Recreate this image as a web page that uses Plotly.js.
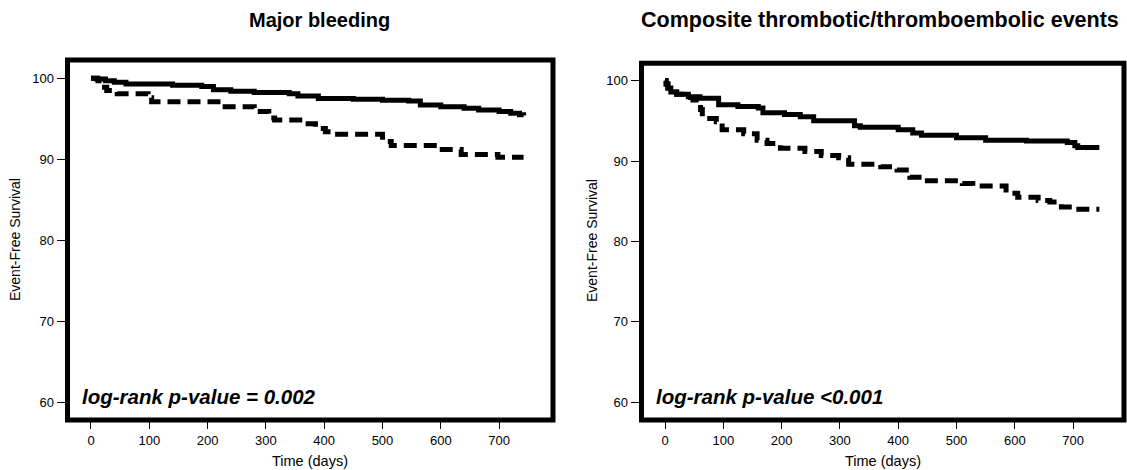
<!DOCTYPE html>
<html>
<head>
<meta charset="utf-8">
<script src="https://cdn.plot.ly/plotly-3.0.1.min.js"></script>
<style>html,body{margin:0;padding:0;background:#fff;}#chart{width:1127px;height:470px;}</style>
</head>
<body>
<div id="chart"></div>
<script>
// Major bleeding – solid group
const bleedSolidDays = [0, 10, 25, 40, 60, 140, 190, 210, 240, 280, 340, 355, 390, 450, 500, 545, 565, 600, 640, 665, 700, 720, 735, 742];
const bleedSolidVals = [100, 99.9, 99.7, 99.5, 99.3, 99.15, 99.0, 98.6, 98.4, 98.25, 98.1, 97.8, 97.5, 97.4, 97.3, 97.2, 96.7, 96.5, 96.3, 96.1, 95.9, 95.7, 95.5, 95.4];
// Major bleeding – dashed group
const bleedDashDays = [0, 12, 18, 27, 45, 98, 104, 225, 280, 305, 315, 368, 385, 402, 418, 500, 515, 595, 635, 698, 742];
const bleedDashVals = [100, 99.7, 98.9, 98.5, 98.1, 97.6, 97.1, 96.5, 95.9, 95.1, 94.85, 94.4, 93.8, 93.4, 93.1, 92.2, 91.7, 91.2, 90.6, 90.25, 90.25];
// Composite thrombotic – solid group
const thrSolidDays = [0, 2, 5, 10, 20, 40, 60, 92, 125, 160, 168, 205, 232, 255, 325, 335, 400, 425, 440, 500, 550, 620, 690, 703, 708, 745];
const thrSolidVals = [100, 99.6, 99.1, 98.6, 98.3, 98.0, 97.8, 97.0, 96.8, 96.6, 96.0, 95.8, 95.5, 95.0, 94.4, 94.2, 93.9, 93.5, 93.2, 92.9, 92.6, 92.5, 92.3, 91.9, 91.7, 91.7];
// Composite thrombotic – dashed group
const thrDashDays = [0, 2, 5, 10, 20, 35, 48, 58, 61, 64, 88, 98, 135, 158, 175, 198, 240, 268, 298, 315, 370, 398, 420, 445, 510, 528, 585, 605, 640, 660, 680, 700, 745];
const thrDashVals = [100, 99.6, 99.1, 98.6, 98.3, 97.9, 97.6, 97.3, 96.4, 95.3, 94.9, 93.9, 93.4, 92.6, 92.2, 91.6, 91.2, 90.7, 90.4, 89.6, 89.3, 88.9, 88.0, 87.55, 87.2, 86.9, 86.0, 85.5, 85.1, 84.9, 84.3, 84.0, 84.0];

const xTicks = [0, 100, 200, 300, 400, 500, 600, 700];
const yTicks = [60, 70, 80, 90, 100];
const panelTitles = ["Major bleeding", "Composite thrombotic/thromboembolic events"];
const pTexts = ["log-rank p-value = 0.002", "log-rank p-value <0.001"];
const xTitle = "Time (days)";
const yTitle = "Event-Free Survival";

const FONT = "Liberation Sans, Arial, sans-serif";
const lineSolid = {color: "#000", width: 5, shape: "hv", dash: "solid"};
const lineDash = {color: "#000", width: 5, shape: "hv", dash: "13px,7px"};

const traces = [
  {x: bleedSolidDays, y: bleedSolidVals, xaxis: "x", yaxis: "y", mode: "lines", line: lineSolid, hoverinfo: "skip"},
  {x: bleedDashDays, y: bleedDashVals, xaxis: "x", yaxis: "y", mode: "lines", line: lineDash, hoverinfo: "skip"},
  {x: thrSolidDays, y: thrSolidVals, xaxis: "x2", yaxis: "y2", mode: "lines", line: lineSolid, hoverinfo: "skip"},
  {x: thrDashDays, y: thrDashVals, xaxis: "x2", yaxis: "y2", mode: "lines", line: lineDash, hoverinfo: "skip"}
];

const W = 1127, H = 470;
function xa(domain, range, anchor) {
  return {domain: domain, range: range, anchor: anchor, showgrid: false, zeroline: false, showline: false,
    tickmode: "array", tickvals: xTicks, ticktext: xTicks.map(String),
    ticks: "outside", ticklen: 8, tickwidth: 1, tickcolor: "#000",
    tickfont: {family: FONT, size: 13, color: "#000"}, fixedrange: true};
}
function ya(domain, range, anchor) {
  return {domain: domain, range: range, anchor: anchor, showgrid: false, zeroline: false, showline: false,
    tickmode: "array", tickvals: yTicks, ticktext: yTicks.map(String),
    ticks: "outside", ticklen: 10, tickwidth: 1, tickcolor: "#000",
    tickfont: {family: FONT, size: 13, color: "#000"}, fixedrange: true};
}

const L = {l: 67.5, r: 553, t: 60, b: 420};
const R = {l: 641.5, r: 1124, t: 63.3, b: 420};

const layout = {
  width: W, height: H, margin: {l: 0, r: 0, t: 0, b: 0},
  paper_bgcolor: "#fff", plot_bgcolor: "#fff", showlegend: false,
  xaxis: xa([L.l / W, L.r / W], [-40.3, 792.5], "y"),
  yaxis: ya([(H - L.b) / H, (H - L.t) / H], [57.81, 102.26], "x"),
  xaxis2: xa([R.l / W, R.r / W], [-40.3, 787.3], "y2"),
  yaxis2: ya([(H - R.b) / H, (H - R.t) / H], [57.8, 102.16], "x2"),
  shapes: [
    {type: "rect", xref: "x domain", yref: "y domain", x0: 0, x1: 1, y0: 0, y1: 1, line: {color: "#000", width: 5}, layer: "above"},
    {type: "rect", xref: "x2 domain", yref: "y2 domain", x0: 0, x1: 1, y0: 0, y1: 1, line: {color: "#000", width: 5}, layer: "above"}
  ],
  annotations: [
    {text: "<b>" + panelTitles[0] + "</b>", xref: "paper", yref: "paper", x: 319 / W, y: 1 - 20 / H, xanchor: "center", yanchor: "middle", showarrow: false, font: {family: FONT, size: 20, color: "#000"}},
    {text: "<b>" + panelTitles[1] + "</b>", xref: "paper", yref: "paper", x: 880 / W, y: 1 - 20 / H, xanchor: "center", yanchor: "middle", showarrow: false, font: {family: FONT, size: 21.5, color: "#000"}},
    {text: "<b><i>" + pTexts[0] + "</i></b>", xref: "paper", yref: "paper", x: 80 / W, y: 1 - 396 / H, xanchor: "left", yanchor: "middle", showarrow: false, font: {family: FONT, size: 20.5, color: "#000"}},
    {text: "<b><i>" + pTexts[1] + "</i></b>", xref: "paper", yref: "paper", x: 654 / W, y: 1 - 396 / H, xanchor: "left", yanchor: "middle", showarrow: false, font: {family: FONT, size: 20.5, color: "#000"}},
    {text: xTitle, xref: "paper", yref: "paper", x: (L.l + L.r) / 2 / W, y: 1 - 461 / H, xanchor: "center", yanchor: "middle", showarrow: false, font: {family: FONT, size: 14.5, color: "#000"}},
    {text: xTitle, xref: "paper", yref: "paper", x: (R.l + R.r) / 2 / W, y: 1 - 461 / H, xanchor: "center", yanchor: "middle", showarrow: false, font: {family: FONT, size: 14.5, color: "#000"}},
    {text: yTitle, xref: "paper", yref: "paper", x: 15 / W, y: 1 - 240 / H, xanchor: "center", yanchor: "middle", textangle: -90, showarrow: false, font: {family: FONT, size: 14, color: "#000"}},
    {text: yTitle, xref: "paper", yref: "paper", x: 592 / W, y: 1 - 241 / H, xanchor: "center", yanchor: "middle", textangle: -90, showarrow: false, font: {family: FONT, size: 14, color: "#000"}}
  ]
};

Plotly.newPlot("chart", traces, layout, {displayModeBar: false, staticPlot: true});
</script>
</body>
</html>
